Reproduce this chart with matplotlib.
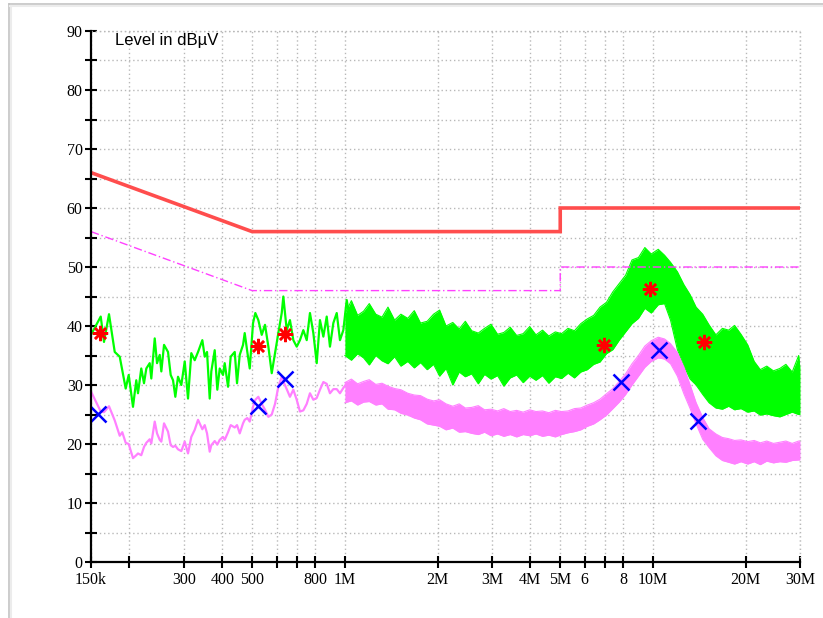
import matplotlib
matplotlib.use("Agg")
import matplotlib.pyplot as plt
from matplotlib.lines import Line2D

# ---------------- data (frequency in MHz, level in dBuV) ----------------
freq_scan = [0.150, 0.1613, 0.1653, 0.1716, 0.1791, 0.1859, 0.1895, 0.1944, 0.1988, 0.2053,
             0.2104, 0.2131, 0.2184, 0.2229, 0.2268, 0.2326, 0.2354, 0.2415, 0.2457, 0.2507,
             0.2537, 0.2589, 0.2667, 0.2721, 0.2769, 0.2817, 0.2874, 0.2946, 0.3022, 0.3097,
             0.3174, 0.3256, 0.3338, 0.3447, 0.3509, 0.3570, 0.3642, 0.3686, 0.3781, 0.3855,
             0.3925, 0.4023, 0.4074, 0.4177, 0.4261, 0.4391, 0.4467, 0.4558, 0.4672, 0.4731,
             0.4824, 0.4912, 0.5035, 0.5122, 0.5238, 0.5373, 0.5506, 0.5646, 0.5790, 0.5934,
             0.6082, 0.6239, 0.6314, 0.6476, 0.6634, 0.6804, 0.6978, 0.7149, 0.7332, 0.7520,
             0.7704, 0.7901, 0.8103, 0.8302, 0.8515, 0.8732, 0.8946, 0.9175, 0.9410, 0.9641,
             0.9887, 1.0140, 1.0389, 1.0654]
peak_scan = [38.5, 41.6, 37.3, 42.0, 35.6, 34.8, 32.5, 29.4, 31.7, 26.3,
             30.8, 28.6, 32.8, 30.3, 32.8, 33.7, 31.1, 37.9, 33.7, 35.1,
             32.3, 36.8, 35.6, 31.7, 30.8, 28.0, 31.4, 30.0, 34.0, 27.7,
             35.4, 34.2, 35.6, 37.6, 34.8, 35.6, 27.7, 32.3, 35.9, 29.2,
             32.8, 31.7, 33.7, 29.7, 34.8, 35.6, 30.3, 35.1, 36.8, 38.8,
             35.6, 32.8, 40.5, 42.2, 41.0, 38.5, 40.2, 36.5, 32.0, 35.4,
             38.8, 42.2, 45.0, 39.3, 41.0, 37.6, 36.5, 37.6, 39.3, 37.6,
             42.2, 38.8, 33.7, 41.0, 38.2, 41.6, 36.5, 40.5, 42.2, 37.6,
             39.3, 44.4, 41.0, 36.5]
avg_scan = [28.9, 25.5, 25.4, 26.4, 24.0, 21.4, 22.0, 20.2, 20.0, 17.6,
            18.1, 18.4, 18.1, 19.5, 20.2, 20.8, 20.1, 23.8, 21.8, 20.7,
            20.4, 23.5, 22.1, 19.8, 19.5, 19.7, 19.1, 18.8, 20.4, 18.4,
            21.2, 22.4, 24.1, 22.5, 23.2, 21.8, 18.7, 19.8, 20.5, 19.9,
            20.7, 21.2, 20.7, 22.0, 23.2, 22.8, 23.2, 21.8, 23.5, 24.1,
            24.4, 23.8, 26.3, 27.5, 28.0, 26.8, 25.8, 24.6, 25.0, 26.8,
            29.7, 31.4, 30.6, 29.3, 28.0, 29.2, 27.5, 25.5, 25.7, 26.8,
            28.6, 27.5, 27.8, 29.2, 30.5, 30.2, 28.6, 29.3, 29.3, 28.6,
            29.5, 30.3, 29.7, 29.2]

# dense part of the sweep: envelope (min / max) of the traces
freq_band = [1.0, 1.05, 1.1, 1.15, 1.2, 1.26, 1.32, 1.38, 1.45, 1.52,
             1.6, 1.68, 1.76, 1.85, 1.94, 2.03, 2.13, 2.24, 2.35, 2.46,
             2.58, 2.71, 2.84, 2.98, 3.13, 3.28, 3.44, 3.61, 3.79, 3.98,
             4.17, 4.38, 4.59, 4.82, 5.05, 5.3, 5.56, 5.83, 6.12, 6.42,
             6.73, 7.06, 7.41, 7.77, 8.15, 8.55, 8.97, 9.41, 9.87, 10.4,
             10.9, 11.4, 12.0, 12.6, 13.2, 13.8, 14.5, 15.2, 16.0, 16.8,
             17.6, 18.4, 19.3, 20.3, 21.3, 22.3, 23.4, 24.6, 25.8, 27.0,
             28.3, 29.7, 30.0]
peak_max = [42.0, 44.3, 41.8, 42.5, 43.8, 42.0, 41.5, 43.2, 41.0, 42.0,
            41.3, 42.6, 40.5, 40.8, 42.0, 42.7, 40.0, 40.6, 39.5, 40.8,
            39.2, 38.8, 39.6, 40.3, 38.6, 38.9, 39.8, 38.4, 38.7, 39.9,
            38.5, 39.3, 38.3, 39.0, 38.7, 39.6, 39.2, 40.4, 41.2, 41.8,
            43.2, 44.0, 45.8, 47.2, 48.6, 51.2, 51.6, 53.3, 52.2, 53.0,
            52.0, 50.8, 49.2, 47.0, 45.3, 43.2, 42.0, 40.2, 38.5, 39.6,
            39.3, 40.1, 38.6, 36.8, 34.0, 32.6, 33.2, 32.4, 32.8, 33.5,
            32.2, 35.0, 33.0]
peak_min = [35.0, 34.2, 35.3, 34.6, 33.4, 35.0, 34.1, 33.6, 34.8, 33.2,
            34.0, 32.9, 33.8, 32.6, 33.5, 31.5, 32.8, 30.0, 32.2, 31.4,
            31.9, 30.2, 31.8, 31.0, 31.6, 29.8, 31.2, 31.7, 30.4, 31.5,
            30.8, 31.6, 30.3, 31.4, 31.1, 32.0, 31.2, 32.2, 32.6, 33.5,
            33.9, 35.3, 36.0, 37.6, 39.0, 40.4, 41.3, 43.0, 42.2, 43.6,
            43.8, 41.0, 36.0, 33.2, 31.0, 30.0, 28.4, 27.0, 26.1, 25.9,
            26.4, 25.8, 26.0, 25.4, 25.6, 24.9, 25.1, 24.8, 24.6, 25.0,
            25.4, 25.0, 25.0]
avg_max = [30.4, 31.0, 30.2, 30.6, 30.9, 30.1, 30.3, 29.8, 29.4, 29.2,
           28.6, 28.3, 28.2, 27.6, 27.3, 27.5, 26.8, 26.4, 26.8, 26.1,
           26.2, 26.5, 25.8, 25.9, 25.6, 26.0, 25.5, 25.7, 25.4, 25.8,
           25.5, 25.6, 25.3, 25.7, 25.5, 25.6, 26.0, 26.1, 26.6, 27.0,
           27.6, 28.5, 29.4, 30.6, 31.9, 33.6, 35.0, 36.6, 37.5, 38.1,
           37.8, 37.0, 35.5, 33.0, 30.0, 27.0, 24.5, 22.6, 21.7, 21.1,
           20.9, 20.6, 20.7, 20.4, 20.6, 20.2, 20.5, 20.1, 20.3, 20.5,
           20.1, 20.5, 20.5]
avg_min = [27.0, 27.3, 26.6, 27.1, 27.2, 26.6, 26.8, 25.9, 25.8, 25.2,
           24.9, 24.4, 24.1, 23.4, 23.2, 23.0, 22.4, 22.7, 22.0, 22.1,
           21.8, 21.6, 22.0, 21.4, 21.7, 21.3, 21.6, 21.2, 21.6, 21.4,
           21.7, 21.3, 21.5, 21.2, 21.6, 21.9, 22.1, 22.4, 23.0, 23.4,
           24.1, 24.9, 26.0, 27.1, 28.4, 30.0, 31.5, 33.0, 34.0, 34.6,
           34.4, 33.6, 31.5, 28.5, 26.0, 23.4, 20.8, 19.4, 18.0, 17.2,
           16.9, 16.6, 17.0, 16.6, 17.0, 16.5, 17.1, 16.8, 17.0, 16.9,
           17.2, 17.3, 17.3]

# limit lines
limit_freq = [0.15, 0.5, 5.0, 5.0, 30.0]
qp_limit = [66, 56, 56, 60, 60]
av_limit = [56, 46, 46, 50, 50]

# final measurement markers
qp_freq = [0.1604, 0.522, 0.639, 6.94, 9.78, 14.6]
qp_level = [38.8, 36.6, 38.6, 36.8, 46.3, 37.3]
av_freq = [0.158, 0.522, 0.639, 7.87, 10.46, 14.0]
av_level = [25.1, 26.4, 31.0, 30.5, 35.9, 23.9]

# axis ticks
x_ticks = [0.15, 0.2, 0.3, 0.4, 0.5, 0.6, 0.7, 0.8, 1, 2, 3, 4, 5, 6, 7, 8, 10, 20, 30]
x_labels = ['150k', '', '300', '400', '500', '', '', '800', '1M', '2M', '3M', '4M', '5M',
            '6', '', '8', '10M', '20M', '30M']
y_ticks = [0, 5, 10, 15, 20, 25, 30, 35, 40, 45, 50, 55, 60, 65, 70, 75, 80, 85, 90]
y_labels = ['0', '', '10', '', '20', '', '30', '', '40', '', '50', '', '60', '', '70', '',
            '80', '', '90']

# ---------------- figure ----------------
W, H = 823, 618
fig = plt.figure(figsize=(W / 100, H / 100), dpi=100)
fig.patch.set_facecolor('white')

# light frame of the window
fig.add_artist(Line2D([8.5 / W, 8.5 / W], [0, 1 - 4 / H], color='#c4c4c4', lw=1.2))
fig.add_artist(Line2D([8.5 / W, 1], [1 - 4 / H, 1 - 4 / H], color='#c4c4c4', lw=1.2))
fig.add_artist(Line2D([10.5 / W, 10.5 / W], [0, 1 - 6 / H], color='#ececec', lw=1.5))
fig.add_artist(Line2D([10 / W, 1], [1 - 6 / H, 1 - 6 / H], color='#ececec', lw=1.5))

ax = fig.add_axes([91 / W, 1 - 562 / H, (800 - 91) / W, (562 - 31) / H])
ax.set_xscale('log')
ax.set_xlim(0.15, 30)
ax.set_ylim(0, 90)

ax.set_xticks(x_ticks)
ax.set_xticklabels(x_labels)
ax.xaxis.set_minor_locator(matplotlib.ticker.NullLocator())
ax.set_yticks(y_ticks)
ax.set_yticklabels(y_labels)

for s in ['top', 'right']:
    ax.spines[s].set_visible(False)
for s in ['left', 'bottom']:
    ax.spines[s].set_linewidth(1.6)
    ax.spines[s].set_zorder(6)

ax.tick_params(axis='both', which='major', direction='inout', length=8, width=1.5,
               colors='black', labelsize=11.5)
ax.tick_params(axis='x', pad=3)
ax.tick_params(axis='y', pad=2)
for lab in ax.get_xticklabels() + ax.get_yticklabels():
    lab.set_family('Liberation Serif')

ax.grid(True, which='major', color='#b8b8b8', linestyle=(0, (1, 2)), lw=1.0)
ax.set_axisbelow(True)
# grid on the top / right edges
ax.axhline(90, color='#b8b8b8', linestyle=(0, (1, 2)), lw=1.0, clip_on=False, zorder=1)
ax.axvline(30, color='#b8b8b8', linestyle=(0, (1, 2)), lw=1.0, clip_on=False, zorder=1)

green = '#00ff00'
pink = '#ff80ff'

# peak trace
ax.plot(freq_scan, peak_scan, color=green, lw=1.6, zorder=3)
ax.fill_between(freq_band, peak_min, peak_max, color=green, lw=0, zorder=3)
ax.plot(freq_band, peak_max, color=green, lw=0.8, zorder=3)
ax.plot(freq_band, peak_min, color=green, lw=0.8, zorder=3)

# average trace
ax.plot(freq_scan, avg_scan, color=pink, lw=1.6, zorder=3)
ax.fill_between(freq_band, avg_min, avg_max, color=pink, lw=0, zorder=3)
ax.plot(freq_band, avg_max, color=pink, lw=0.8, zorder=3)
ax.plot(freq_band, avg_min, color=pink, lw=0.8, zorder=3)

# limits
ax.plot(limit_freq, qp_limit, color='#ff4d4d', lw=2.6, zorder=4, solid_joinstyle='miter')
ax.plot(limit_freq, av_limit, color='#ff40ff', lw=1.0, linestyle=(0, (6, 2, 1, 2)), zorder=4)

# markers
ax.plot(qp_freq, qp_level, linestyle='none', marker=(8, 2, 0), markersize=11,
        markeredgewidth=1.8, color='#ff0000', zorder=5)
ax.plot(av_freq, av_level, linestyle='none', marker='x', markersize=11,
        markeredgewidth=1.8, color='#0000ff', zorder=5)

fig.text(115 / W, 1 - 40 / H, 'Level in dBµV', family='Liberation Sans', fontsize=12,
         ha='left', va='center')

fig.savefig('out.png', dpi=100)
